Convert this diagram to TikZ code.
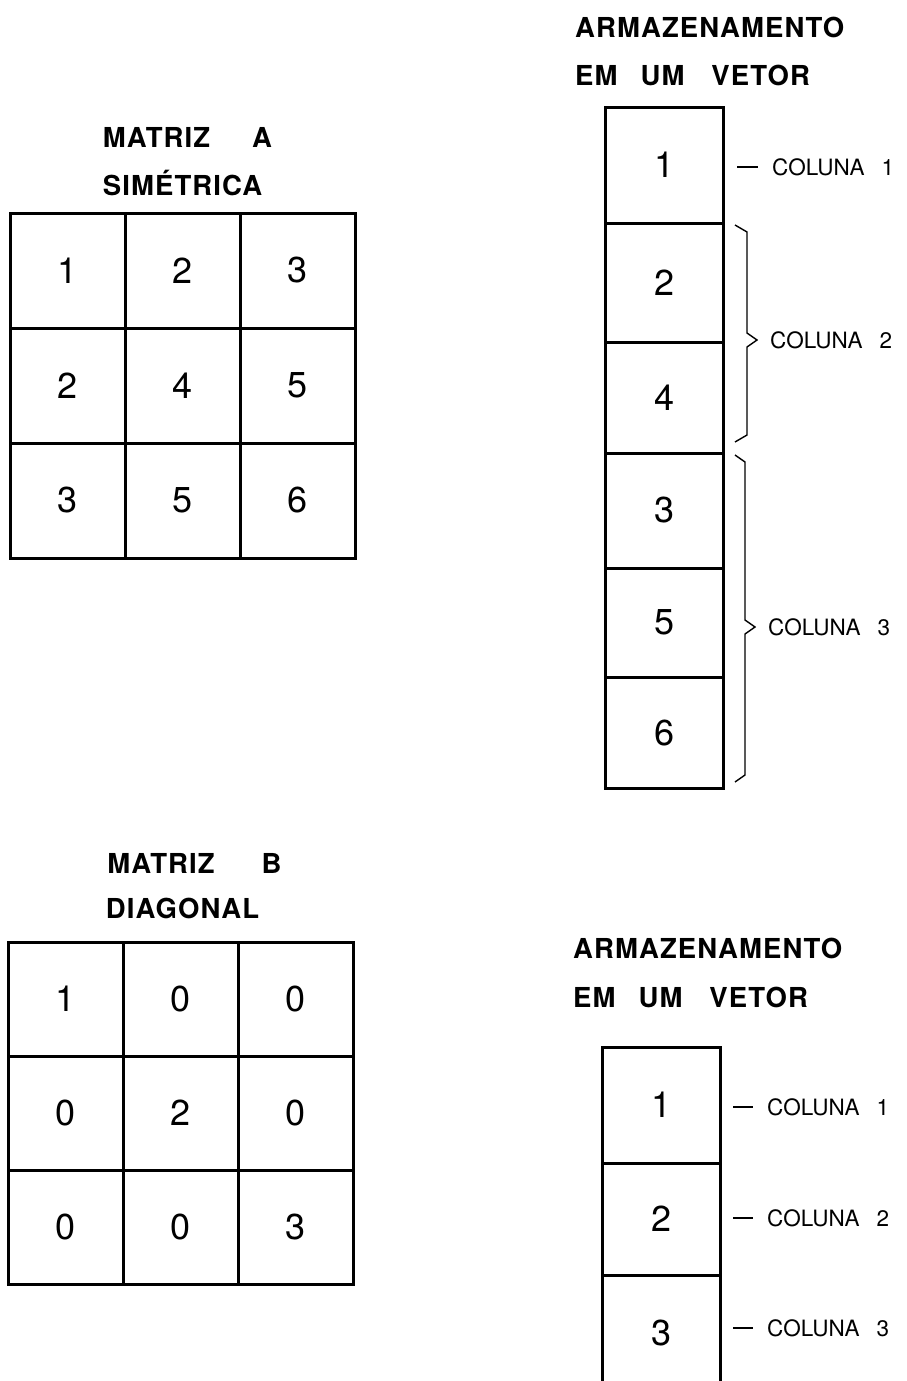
\documentclass[tikz,border=0pt]{standalone}
\usepackage{fontspec}
\setmainfont{TeX Gyre Heros}
\newfontfamily\ttlfont[LetterSpace=4]{TeX Gyre Heros}
\begin{document}
\begin{tikzpicture}[x=1pt,y=-1pt,
  cell/.style={draw, line width=3pt, inner sep=0pt, minimum width=115pt, minimum height=115pt,
               font=\fontsize{36}{36}\selectfont},
  vcell/.style={draw, line width=3pt, inner sep=0pt, minimum width=118pt,
               font=\fontsize{36}{36}\selectfont},
  ttl/.style={inner sep=0pt, font=\ttlfont\bfseries\fontsize{27.5}{30}\selectfont},
  lbl/.style={inner sep=0pt, anchor=west, font=\fontsize{22.5}{24}\selectfont},
  tick/.style={line width=1.4pt},
  bracepath/.style={line width=1.4pt, line join=miter}]
\clip (0,0) rectangle (906,1381);
% ---------- Matrix A ----------
\node[ttl] (tA1) at (187.5,137) {MATRIZ\hspace{42pt}A};
\node[ttl] (tA2) at (182.5,183) {SIMÉTRICA};
\node[cell] (a11) at (67.5,270.5) {1};
\node[cell] (a12) at (182.5,270.5) {2};
\node[cell] (a13) at (297.5,270.5) {3};
\node[cell] (a21) at (67.5,385.5) {2};
\node[cell] (a22) at (182.5,385.5) {4};
\node[cell] (a23) at (297.5,385.5) {5};
\node[cell] (a31) at (67.5,500.5) {3};
\node[cell] (a32) at (182.5,500.5) {5};
\node[cell] (a33) at (297.5,500.5) {6};
% ---------- Vector A ----------
\node[ttl, anchor=west] (tV1) at (575,27) {ARMAZENAMENTO};
\node[ttl, anchor=west] (tV2) at (575,75) {EM\hspace{23pt}UM\hspace{27pt}VETOR};
\node[vcell, minimum height=116pt] (v1) at (664,165) {1};
\node[vcell, minimum height=119pt] (v2) at (664,282.5) {2};
\node[vcell, minimum height=111pt] (v3) at (664,397.5) {4};
\node[vcell, minimum height=115pt] (v4) at (664,510.5) {3};
\node[vcell, minimum height=109pt] (v5) at (664,622.5) {5};
\node[vcell, minimum height=111pt] (v6) at (664,732.5) {6};
\coordinate (d1a) at (737,167);
\coordinate (d1b) at (758,167);
\draw[tick] (d1a) -- (d1b);
\node[lbl] (c1) at (772,167) {COLUNA\hspace{17pt}1};
\draw[bracepath] (735,225) -- (747,232) -- (747,333) -- (757,340) -- (747,347) -- (747,435) -- (735,442);
\node[lbl] (c2) at (770,340) {COLUNA\hspace{17pt}2};
\draw[bracepath] (735,455) -- (745,462) -- (745,620) -- (755,627) -- (745,634) -- (745,775) -- (735,782);
\node[lbl] (c3) at (768,627) {COLUNA\hspace{17pt}3};
% ---------- Matrix B ----------
\node[ttl] (tB1) at (194.5,863) {MATRIZ\hspace{47pt}B};
\node[ttl] (tB2) at (182.5,908) {DIAGONAL};
\begin{scope}[cell/.append style={minimum height=114pt}]
\node[cell] (b11) at (65.5,999) {1};
\node[cell] (b12) at (180.5,999) {0};
\node[cell] (b13) at (295.5,999) {0};
\node[cell] (b21) at (65.5,1113) {0};
\node[cell] (b22) at (180.5,1113) {2};
\node[cell] (b23) at (295.5,1113) {0};
\node[cell] (b31) at (65.5,1227) {0};
\node[cell] (b32) at (180.5,1227) {0};
\node[cell] (b33) at (295.5,1227) {3};
\end{scope}
% ---------- Vector B ----------
\node[ttl, anchor=west] (tW1) at (573,948) {ARMAZENAMENTO};
\node[ttl, anchor=west] (tW2) at (573,997) {EM\hspace{23pt}UM\hspace{27pt}VETOR};
\node[vcell, minimum height=116pt] (w1) at (661,1105) {1};
\node[vcell, minimum height=112pt] (w2) at (661,1219) {2};
\node[vcell, minimum height=116pt] (w3) at (661,1333) {3};
\coordinate (e1a) at (733,1107);
\coordinate (e1b) at (753,1107);
\coordinate (e2a) at (733,1218);
\coordinate (e2b) at (753,1218);
\coordinate (e3a) at (733,1328);
\coordinate (e3b) at (753,1328);
\draw[tick] (e1a) -- (e1b);
\draw[tick] (e2a) -- (e2b);
\draw[tick] (e3a) -- (e3b);
\node[lbl] (k1) at (767,1107) {COLUNA\hspace{17pt}1};
\node[lbl] (k2) at (767,1218) {COLUNA\hspace{17pt}2};
\node[lbl] (k3) at (767,1328) {COLUNA\hspace{17pt}3};
\end{tikzpicture}
\end{document}
